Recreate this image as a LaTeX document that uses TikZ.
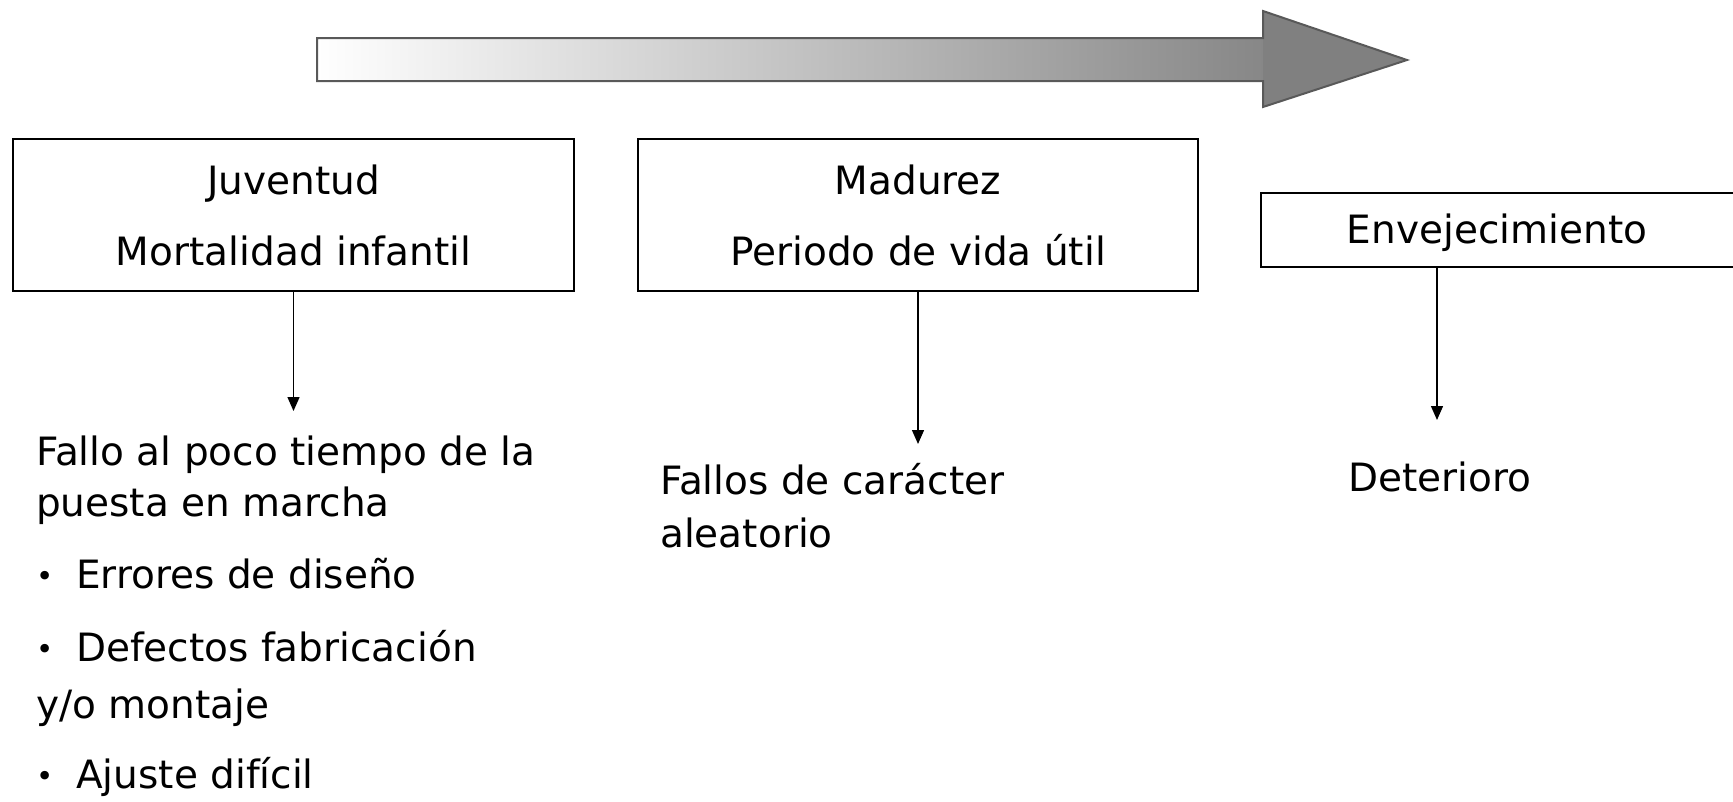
\documentclass[tikz,border=0pt]{standalone}
\usepackage{fontspec}
\setmainfont{DejaVu Sans}
\usetikzlibrary{arrows.meta}
\newcommand{\mybul}{\makebox[40pt][l]{\raisebox{2pt}{\scalebox{0.75}{•}}}}
\begin{document}
\begin{tikzpicture}[x=1pt,y=-1pt,
  box/.style={draw=black,line width=2pt,fill=white,inner sep=0pt},
  lbl/.style={inner sep=0pt,font=\fontsize{39}{46}\selectfont},
  conn/.style={line width=1.4pt,-{Triangle[length=14pt,width=12pt]}}]
\useasboundingbox (0,0) rectangle (1733,801);
% big arrow
\shade[left color=white,right color=black!47] (317,38) rectangle (1263,81);
\fill[black!50] (1263,11) -- (1407,60) -- (1263,107) -- cycle;
\draw[black!65,line width=2pt,line join=miter] (317,38) -- (1263,38) -- (1263,11) -- (1407,60) -- (1263,107) -- (1263,81) -- (317,81) -- cycle;
% boxes
\node[box,minimum width=561pt,minimum height=152pt] (b1) at (293.5,215) {};
\node[box,minimum width=560pt,minimum height=152pt] (b2) at (918,215) {};
\node[box,minimum width=490pt,minimum height=74pt] (b3) at (1506,230) {};
% box texts
\node[lbl,anchor=base] (t1a) at (293.5,194.5) {Juventud};
\node[lbl,anchor=base] (t1b) at (293.5,265) {Mortalidad infantil};
\node[lbl,anchor=base] (t2a) at (918,194.5) {Madurez};
\node[lbl,anchor=base] (t2b) at (918,265) {Periodo de vida útil};
\node[lbl,anchor=base] (t3a) at (1497,243) {Envejecimiento};
% connectors
\coordinate (e1) at (293.5,411);
\coordinate (e2) at (918,444);
\coordinate (e3) at (1437,420);
\draw[conn] (b1.south) -- (e1);
\draw[conn] (b2.south) -- (e2);
\draw[conn] (b3.south -| e3) -- (e3);
% lower texts
\node[lbl,anchor=base west] (l1) at (36,465) {Fallo al poco tiempo de la};
\node[lbl,anchor=base west] (l2) at (36,516) {puesta en marcha};
\node[lbl,anchor=base west] (l3) at (36,588) {\mybul Errores de diseño};
\node[lbl,anchor=base west] (l4) at (36,661) {\mybul Defectos fabricación};
\node[lbl,anchor=base west] (l5) at (36,718) {y/o montaje};
\node[lbl,anchor=base west] (l6) at (36,788) {\mybul Ajuste difícil};
\node[lbl,anchor=base west] (m1) at (660,494) {Fallos de carácter};
\node[lbl,anchor=base west] (m2) at (660,547) {aleatorio};
\node[lbl,anchor=base west] (r1) at (1348,491) {Deterioro};
\end{tikzpicture}
\end{document}
